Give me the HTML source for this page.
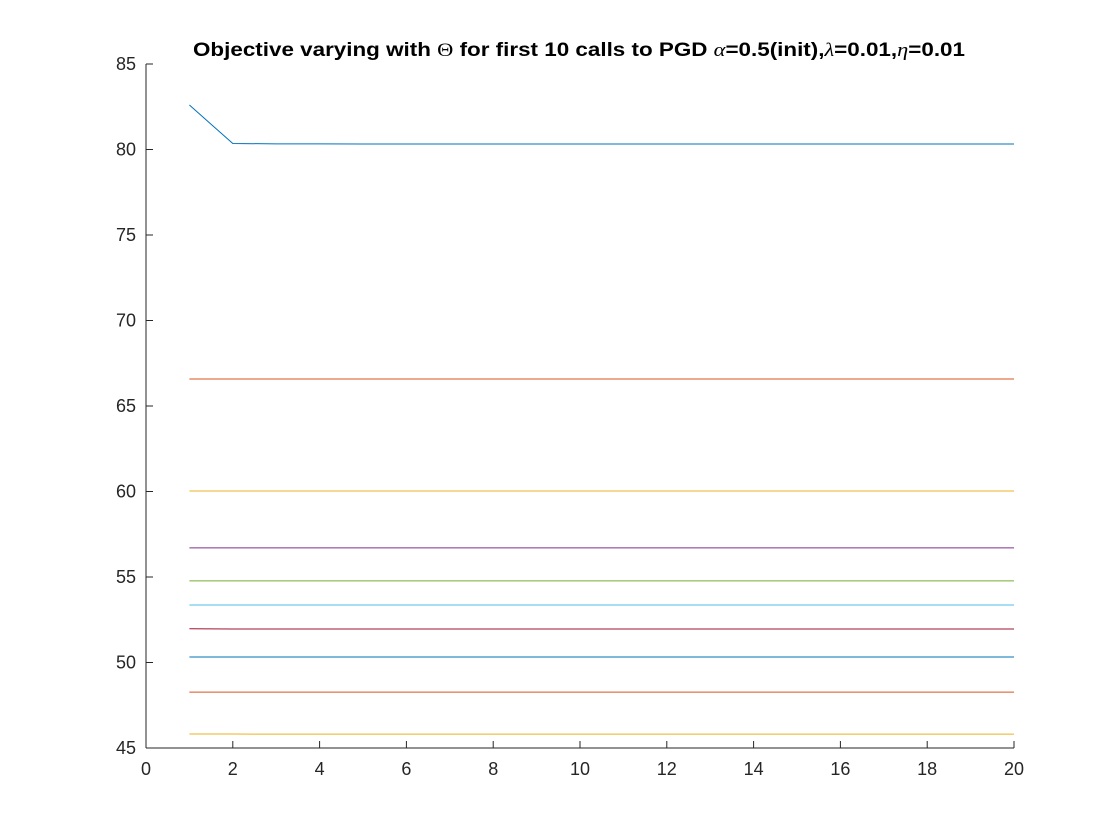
<!DOCTYPE html>
<html><head><meta charset="utf-8"><style>
html,body{margin:0;padding:0;background:#fff;}
svg{display:block;font-family:"Liberation Sans",sans-serif;}
</style></head><body>
<svg id="chart" width="1120" height="840" xmlns="http://www.w3.org/2000/svg">
<rect x="0" y="0" width="1120" height="840" fill="#fff"/>
<text x="579" y="56" text-anchor="middle" font-size="19" font-weight="bold" fill="#000" textLength="772" lengthAdjust="spacingAndGlyphs">Objective varying with <tspan font-family="Liberation Serif" font-weight="normal">Θ</tspan> for first 10 calls to PGD <tspan font-family="Liberation Serif" font-style="italic" font-weight="normal">α</tspan>=0.5(init),<tspan font-family="Liberation Serif" font-style="italic" font-weight="normal">λ</tspan>=0.01,<tspan font-family="Liberation Serif" font-style="italic" font-weight="normal">η</tspan>=0.01</text>
<g id="axes"></g>
<g id="series"></g>
</svg>
<script>
const xTicks = [0,2,4,6,8,10,12,14,16,18,20];
const yTicks = [45,50,55,60,65,70,75,80,85];
const xValues = [1,2,3,4,5,6,7,8,9,10,11,12,13,14,15,16,17,18,19,20];
const series1 = [82.6,80.35,80.33,80.33,80.32,80.32,80.32,80.32,80.32,80.32,80.32,80.32,80.32,80.32,80.32,80.32,80.32,80.32,80.32,80.32];
const series2 = [66.58,66.58,66.58,66.58,66.58,66.58,66.58,66.58,66.58,66.58,66.58,66.58,66.58,66.58,66.58,66.58,66.58,66.58,66.58,66.58];
const series3 = [60.03,60.03,60.03,60.03,60.03,60.03,60.03,60.03,60.03,60.03,60.03,60.03,60.03,60.03,60.03,60.03,60.03,60.03,60.03,60.03];
const series4 = [56.7,56.7,56.7,56.7,56.7,56.7,56.7,56.7,56.7,56.7,56.7,56.7,56.7,56.7,56.7,56.7,56.7,56.7,56.7,56.7];
const series5 = [54.77,54.77,54.77,54.77,54.77,54.77,54.77,54.77,54.77,54.77,54.77,54.77,54.77,54.77,54.77,54.77,54.77,54.77,54.77,54.77];
const series6 = [53.36,53.36,53.36,53.36,53.36,53.36,53.36,53.36,53.36,53.36,53.36,53.36,53.36,53.36,53.36,53.36,53.36,53.36,53.36,53.36];
const series7 = [51.97,51.96,51.96,51.96,51.96,51.96,51.96,51.96,51.96,51.96,51.96,51.96,51.96,51.96,51.96,51.96,51.96,51.96,51.96,51.96];
const series8 = [50.32,50.32,50.32,50.32,50.32,50.32,50.32,50.32,50.32,50.32,50.32,50.32,50.32,50.32,50.32,50.32,50.32,50.32,50.32,50.32];
const series9 = [48.27,48.27,48.27,48.27,48.27,48.27,48.27,48.27,48.27,48.27,48.27,48.27,48.27,48.27,48.27,48.27,48.27,48.27,48.27,48.27];
const series10 = [45.82,45.82,45.81,45.81,45.81,45.81,45.81,45.81,45.81,45.81,45.81,45.81,45.81,45.81,45.81,45.81,45.81,45.81,45.81,45.81];

const allSeries = [series1,series2,series3,series4,series5,series6,series7,series8,series9,series10];
const colors = ["#0072BD","#D95319","#EDB120","#7E2F8E","#77AC30","#4DBEEE","#A2142F","#0072BD","#D95319","#EDB120"];
const NS = "http://www.w3.org/2000/svg";
const L=146,R=1014,T=64,B=748;
function xs(v){return L+(v-0)/(20-0)*(R-L);}
function ys(v){return B-(v-45)/(85-45)*(B-T);}
const axes=document.getElementById('axes');
function mk(tag,attrs,parent){const e=document.createElementNS(NS,tag);for(const k in attrs)e.setAttribute(k,attrs[k]);parent.appendChild(e);return e;}
const xa=mk('line',{x1:L,y1:B,x2:R,y2:B,stroke:'#262626','stroke-width':1},axes);


const ya=mk('line',{x1:L,y1:T,x2:L,y2:B,stroke:'#262626','stroke-width':1},axes);


xTicks.forEach(t=>{
  const x=xs(t);
  const tk=mk('line',{x1:x,y1:B,x2:x,y2:B-7,stroke:'#262626','stroke-width':1},axes);
  
  
  const tx=mk('text',{x:x,y:B+27,'text-anchor':'middle','font-size':18,fill:'#262626'},axes);
  tx.textContent=t;
  
  
});
yTicks.forEach(t=>{
  const y=ys(t);
  const tk=mk('line',{x1:L,y1:y,x2:L+7,y2:y,stroke:'#262626','stroke-width':1},axes);
  
  
  const tx=mk('text',{x:L-10,y:y+6,'text-anchor':'end','font-size':18,fill:'#262626'},axes);
  tx.textContent=t;
  
  
});
const sg=document.getElementById('series');
allSeries.forEach((s,i)=>{
  const pts=s.map((v,j)=>xs(xValues[j]).toFixed(2)+','+ys(v).toFixed(2)).join(' ');
  const pl=mk('polyline',{points:pts,fill:'none',stroke:colors[i],'stroke-width':1},sg);
  
  
});
</script>
</body></html>
